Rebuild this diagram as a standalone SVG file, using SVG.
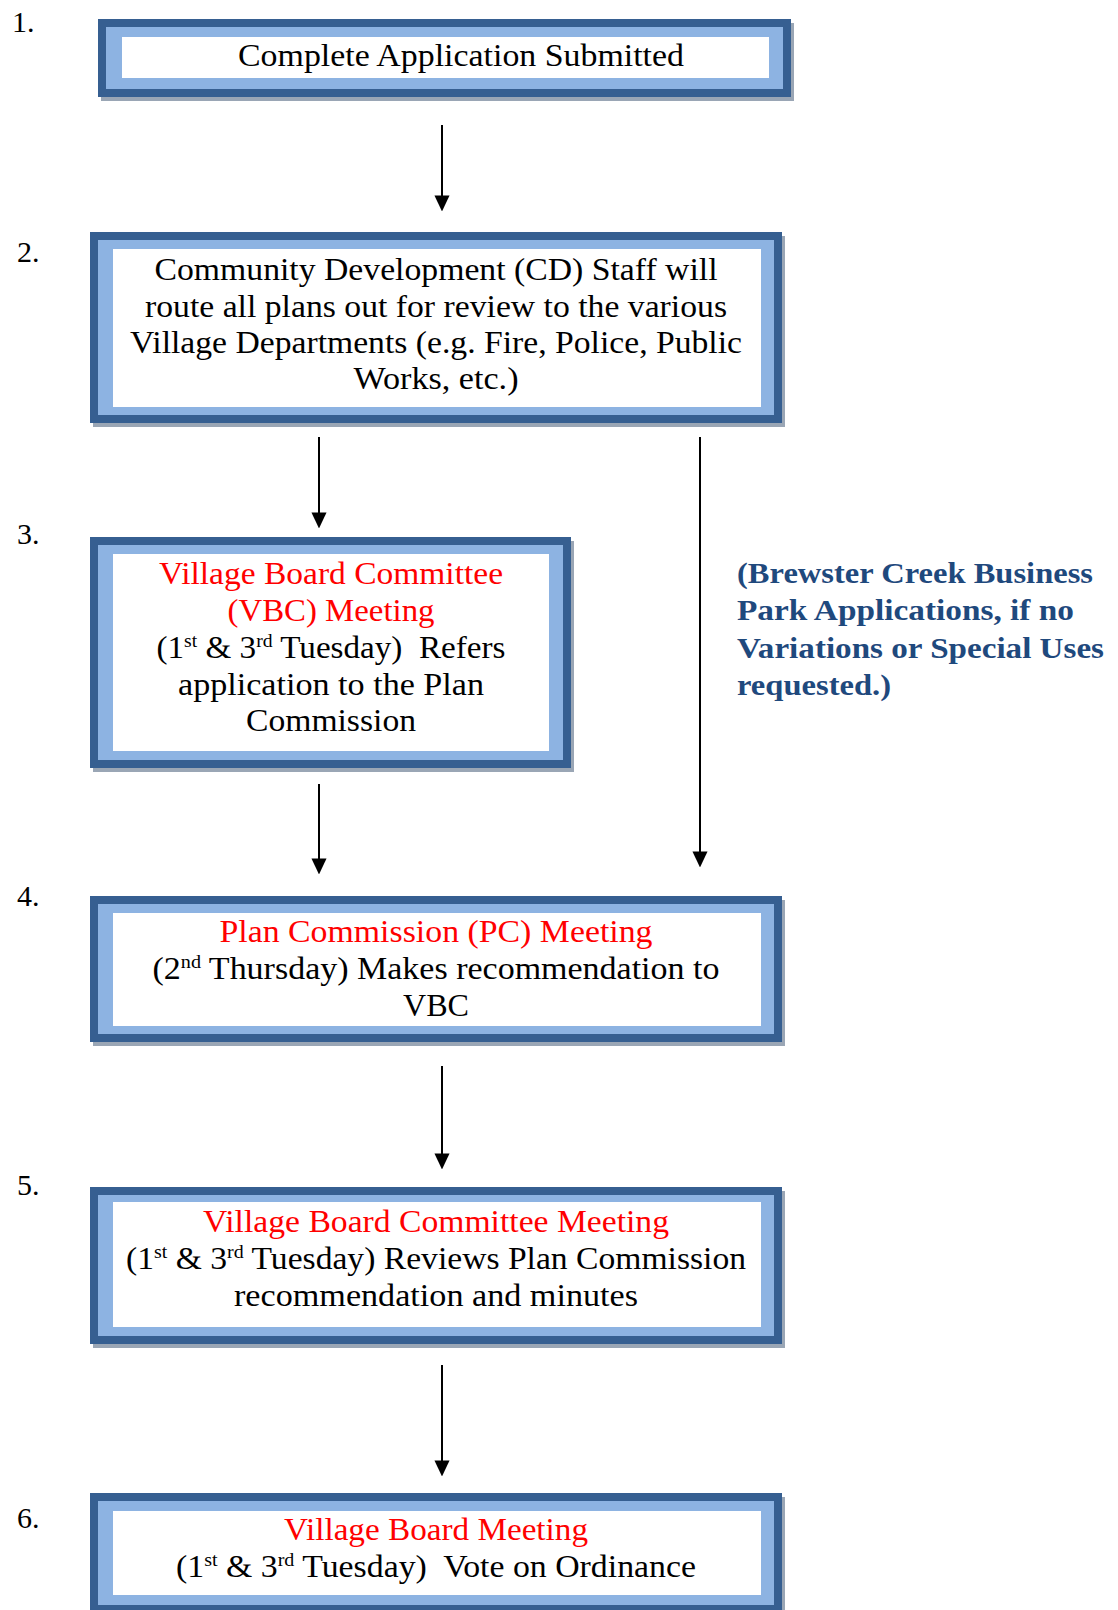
<svg xmlns="http://www.w3.org/2000/svg" width="1118" height="1610" viewBox="0 0 1118 1610">
<style>
.shadow{fill:#9AA6B5}
.dark{fill:#365F91}
.light{fill:#8DB3E2}
.white{fill:#FFFFFF}
text{font-family:"Liberation Serif","Times New Roman",serif;font-size:32px;fill:#000}
.c{text-anchor:middle}
.red{fill:#FF0000}
.num{font-size:30px}
.side{font-weight:bold;font-size:30px;fill:#1F497D}
.pre{white-space:pre}
.conn line{stroke:#000;stroke-width:2;fill:none}
</style>
<defs>
<marker id="ah" markerUnits="userSpaceOnUse" markerWidth="16" markerHeight="17" viewBox="0 0 17 16" refX="8" refY="8" orient="auto">
<path d="M0,0 L17,8 L0,16 z" fill="#000"/>
</marker>
</defs>
<rect width="1118" height="1610" fill="#fff"/>

<g id="node1">
<text class="num" x="12" y="32">1.</text>
<rect class="shadow" x="101" y="23" width="693" height="78"/>
<rect class="dark" x="98" y="19" width="693" height="78"/>
<rect class="light" x="106" y="27" width="677" height="62"/>
<rect class="white" x="122" y="37" width="647" height="41"/>
<text class="c" x="461" y="66" textLength="446" lengthAdjust="spacingAndGlyphs">Complete Application Submitted</text>
</g>

<g id="node2">
<text class="num" x="17" y="262">2.</text>
<rect class="shadow" x="93" y="236" width="692" height="191"/>
<rect class="dark" x="90" y="232" width="692" height="191"/>
<rect class="light" x="98" y="240" width="676" height="175"/>
<rect class="white" x="113" y="249" width="648" height="158"/>
<text class="c" x="436" y="280" textLength="563" lengthAdjust="spacingAndGlyphs">Community Development (CD) Staff will</text>
<text class="c" x="436" y="317" textLength="582" lengthAdjust="spacingAndGlyphs">route all plans out for review to the various</text>
<text class="c" x="436" y="353" textLength="612" lengthAdjust="spacingAndGlyphs">Village Departments (e.g. Fire, Police, Public</text>
<text class="c" x="436" y="389" textLength="165" lengthAdjust="spacingAndGlyphs">Works, etc.)</text>
</g>

<g id="node3">
<text class="num" x="17" y="544">3.</text>
<rect class="shadow" x="93" y="541" width="481" height="231"/>
<rect class="dark" x="90" y="537" width="481" height="231"/>
<rect class="light" x="98" y="545" width="465" height="215"/>
<rect class="white" x="113" y="554" width="436" height="197"/>
<text class="c red" x="331" y="584" textLength="344" lengthAdjust="spacingAndGlyphs">Village Board Committee</text>
<text class="c red" x="331" y="621" textLength="207" lengthAdjust="spacingAndGlyphs">(VBC) Meeting</text>
<text class="c pre" x="331" y="658" textLength="349" lengthAdjust="spacingAndGlyphs">(1<tspan font-size="19" dy="-11">st</tspan><tspan dy="11"> &amp; 3</tspan><tspan font-size="19" dy="-11">rd</tspan><tspan dy="11"> Tuesday)  Refers</tspan></text>
<text class="c" x="331" y="695" textLength="306" lengthAdjust="spacingAndGlyphs">application to the Plan</text>
<text class="c" x="331" y="731" textLength="170" lengthAdjust="spacingAndGlyphs">Commission</text>
</g>

<g id="note">
<text class="side" x="737" y="583" textLength="356" lengthAdjust="spacingAndGlyphs">(Brewster Creek Business</text>
<text class="side" x="737" y="620" textLength="337" lengthAdjust="spacingAndGlyphs">Park Applications, if no</text>
<text class="side" x="737" y="658" textLength="367" lengthAdjust="spacingAndGlyphs">Variations or Special Uses</text>
<text class="side" x="737" y="695" textLength="154" lengthAdjust="spacingAndGlyphs">requested.)</text>
</g>

<g id="node4">
<text class="num" x="17" y="906">4.</text>
<rect class="shadow" x="93" y="900" width="692" height="146"/>
<rect class="dark" x="90" y="896" width="692" height="146"/>
<rect class="light" x="98" y="904" width="676" height="130"/>
<rect class="white" x="113" y="913" width="648" height="113"/>
<text class="c red" x="436" y="942" textLength="433" lengthAdjust="spacingAndGlyphs">Plan Commission (PC) Meeting</text>
<text class="c" x="436" y="979" textLength="567" lengthAdjust="spacingAndGlyphs">(2<tspan font-size="19" dy="-11">nd</tspan><tspan dy="11"> Thursday) Makes recommendation to</tspan></text>
<text class="c" x="436" y="1016" textLength="66" lengthAdjust="spacingAndGlyphs">VBC</text>
</g>

<g id="node5">
<text class="num" x="17" y="1195">5.</text>
<rect class="shadow" x="93" y="1191" width="692" height="157"/>
<rect class="dark" x="90" y="1187" width="692" height="157"/>
<rect class="light" x="98" y="1195" width="676" height="141"/>
<rect class="white" x="113" y="1202" width="648" height="125"/>
<text class="c red" x="436" y="1232" textLength="466" lengthAdjust="spacingAndGlyphs">Village Board Committee Meeting</text>
<text class="c" x="436" y="1269" textLength="620" lengthAdjust="spacingAndGlyphs">(1<tspan font-size="19" dy="-11">st</tspan><tspan dy="11"> &amp; 3</tspan><tspan font-size="19" dy="-11">rd</tspan><tspan dy="11"> Tuesday) Reviews Plan Commission</tspan></text>
<text class="c" x="436" y="1306" textLength="404" lengthAdjust="spacingAndGlyphs">recommendation and minutes</text>
</g>

<g id="node6">
<text class="num" x="17" y="1528">6.</text>
<rect class="shadow" x="93" y="1497" width="692" height="130"/>
<rect class="dark" x="90" y="1493" width="692" height="130"/>
<rect class="light" x="98" y="1501" width="676" height="104"/>
<rect class="white" x="113" y="1511" width="648" height="84"/>
<text class="c red" x="436" y="1540" textLength="304" lengthAdjust="spacingAndGlyphs">Village Board Meeting</text>
<text class="c pre" x="436" y="1577" textLength="520" lengthAdjust="spacingAndGlyphs">(1<tspan font-size="19" dy="-11">st</tspan><tspan dy="11"> &amp; 3</tspan><tspan font-size="19" dy="-11">rd</tspan><tspan dy="11"> Tuesday)  Vote on Ordinance</tspan></text>
</g>

<g id="connectors" class="conn">
<line x1="442" y1="125" x2="442" y2="203" marker-end="url(#ah)"/>
<line x1="319" y1="437" x2="319" y2="520" marker-end="url(#ah)"/>
<line x1="700" y1="437" x2="700" y2="859" marker-end="url(#ah)"/>
<line x1="319" y1="784" x2="319" y2="866" marker-end="url(#ah)"/>
<line x1="442" y1="1066" x2="442" y2="1161" marker-end="url(#ah)"/>
<line x1="442" y1="1365" x2="442" y2="1468" marker-end="url(#ah)"/>
</g>
</svg>
